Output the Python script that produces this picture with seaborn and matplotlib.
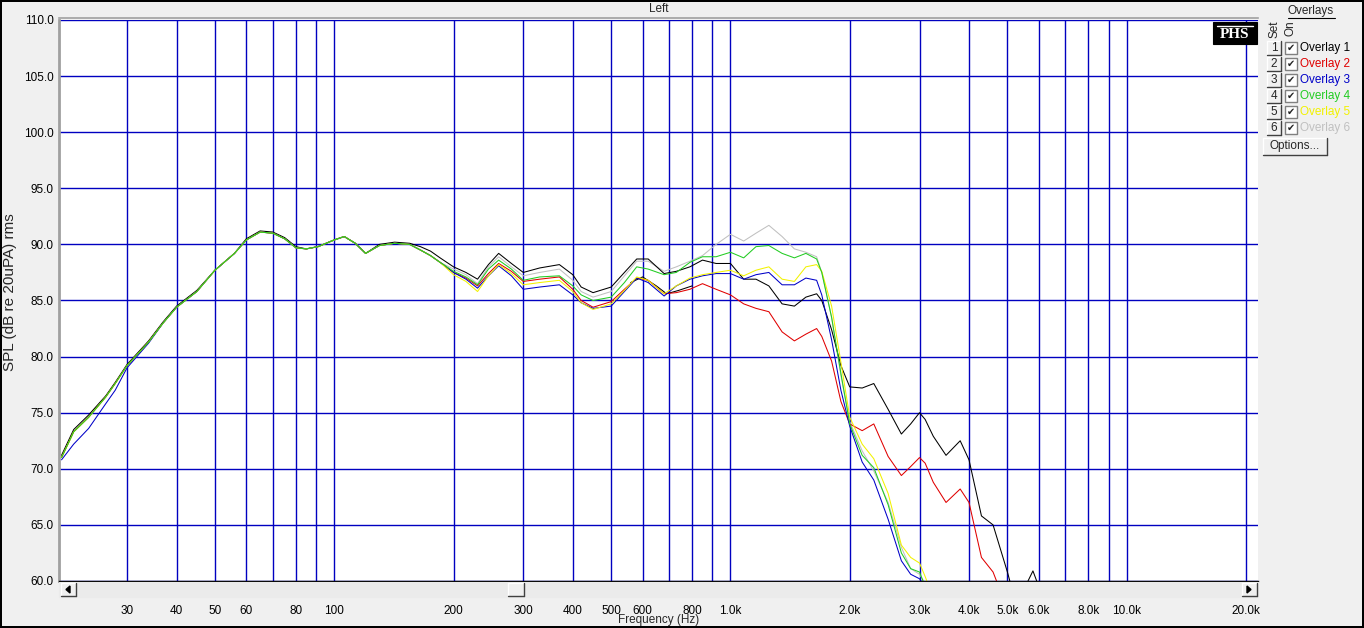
import numpy as np
import pandas as pd
import seaborn as sns
import matplotlib.pyplot as plt
from matplotlib.patches import Rectangle, Polygon
from matplotlib.lines import Line2D
from matplotlib.ticker import NullLocator

# --- data --------------------------------------------------------------
low_hz = [20.5, 22, 24, 26.5, 28, 30, 34, 37, 40, 45, 50, 56, 60, 65, 70, 75,
          80, 85, 91, 100, 106, 113, 120, 130, 142, 155, 165, 175, 185]
low_db = [71.0, 73.3, 74.6, 76.4, 77.6, 79.2, 81.3, 83.0, 84.4, 85.8, 87.7, 89.2,
          90.4, 91.1, 91.0, 90.5, 89.7, 89.6, 89.8, 90.4, 90.7, 90.1, 89.2, 89.9,
          90.1, 90.0, 89.5, 89.0, 88.4]
low_db_ov1 = [71.2, 73.5, 74.8, 76.5, 77.7, 79.3, 81.4, 83.1, 84.5, 85.9, 87.7, 89.2,
              90.5, 91.2, 91.1, 90.6, 89.8, 89.6, 89.8, 90.4, 90.7, 90.1, 89.2, 90.0,
              90.2, 90.1, 89.8, 89.4, 88.8]
low_db_ov3 = [70.8, 72.2, 73.6, 75.8, 77.0, 79.0, 81.2, 83.0, 84.4, 85.8, 87.7, 89.2,
              90.4, 91.1, 91.0, 90.5, 89.7, 89.6, 89.8, 90.4, 90.7, 90.1, 89.2, 89.9,
              90.1, 90.0, 89.5, 89.0, 88.4]

hi_hz = [200, 215, 230, 245, 260, 280, 300, 330, 370, 400,
         420, 450, 500, 540, 580, 620, 680, 730, 790, 850,
         920, 1000, 1080, 1160, 1250, 1350, 1450, 1550, 1650, 1700,
         1800, 1900, 2000, 2150, 2300, 2500, 2700, 2850, 3000, 3100,
         3250, 3500, 3800, 4000, 4300, 4600, 5000, 5300, 5600, 5800,
         6000, 6400]

na = np.nan
ov1_hi = [88.0, 87.5, 86.9, 88.2, 89.2, 88.3, 87.5, 87.9, 88.2, 87.3,
          86.2, 85.7, 86.2, 87.5, 88.7, 88.7, 87.4, 87.6, 88.0, 88.6,
          88.3, 88.3, 86.9, 86.9, 86.3, 84.7, 84.5, 85.3, 85.6, 85.0,
          82.4, 79.2, 77.3, 77.2, 77.6, 75.3, 73.1, 74.0, 75.0, 74.4,
          72.9, 71.2, 72.5, 70.8, 65.8, 65.0, 60.8, 57.5, 59.8, 60.9,
          59.5, 56.0]
ov2_hi = [87.5, 87.0, 86.3, 87.4, 88.3, 87.6, 86.7, 86.9, 87.1, 86.0,
          85.0, 84.4, 84.9, 86.0, 87.0, 86.8, 85.6, 85.7, 86.0, 86.5,
          86.0, 85.5, 84.7, 84.3, 84.0, 82.2, 81.4, 82.0, 82.5, 81.8,
          79.6, 76.0, 74.0, 73.4, 74.0, 71.1, 69.4, 70.2, 71.0, 70.5,
          68.8, 67.0, 68.2, 67.0, 62.1, 60.8, 57.5, na, na, na,
          na, na]
ov3_hi = [87.5, 86.9, 86.1, 87.2, 88.1, 87.2, 86.0, 86.2, 86.4, 85.5,
          84.8, 84.3, 84.5, 85.8, 87.0, 86.6, 85.4, 86.3, 86.9, 87.2,
          87.4, 87.4, 86.9, 87.3, 87.5, 86.4, 86.4, 87.0, 86.8, 85.5,
          81.5, 77.0, 73.8, 70.6, 69.0, 65.5, 61.8, 60.6, 60.2, 59.5,
          na, na, na, na, na, na, na, na, na, na,
          na, na]
ov4_hi = [87.6, 87.1, 86.4, 87.8, 88.6, 87.8, 86.8, 87.1, 87.2, 86.3,
          85.5, 85.0, 85.3, 86.6, 88.0, 87.8, 87.3, 87.5, 88.4, 88.9,
          88.9, 89.3, 88.8, 89.8, 89.9, 89.2, 88.8, 89.2, 88.7, 87.5,
          83.5, 78.5, 74.0, 71.2, 70.1, 66.8, 62.5, 61.1, 60.8, 59.5,
          na, na, na, na, na, na, na, na, na, na,
          na, na]
ov5_hi = [87.3, 86.7, 85.8, 87.2, 88.2, 87.4, 86.4, 86.6, 86.8, 85.8,
          84.8, 84.2, 84.7, 85.9, 87.1, 86.8, 85.6, 86.3, 87.0, 87.3,
          87.5, 87.7, 87.2, 87.7, 88.0, 86.9, 86.7, 88.0, 88.2, 87.6,
          84.5, 79.5, 74.6, 72.2, 70.9, 67.8, 63.2, 62.1, 61.6, 60.4,
          58.5, na, na, na, na, na, na, na, na, na,
          na, na]
ov6_hi = [87.8, 87.3, 86.5, 88.0, 88.9, 88.0, 87.2, 87.5, 87.8, 86.8,
          85.8, 85.3, 85.8, 87.2, 88.5, 88.5, 87.6, 88.0, 88.5, 89.0,
          90.0, 90.9, 90.3, 91.0, 91.7, 90.7, 89.6, 89.3, 88.9, 87.5,
          83.5, 78.3, 74.2, 71.6, 69.8, 67.0, 63.0, 61.1, 60.6, 59.8,
          na, na, na, na, na, na, na, na, na, na,
          na, na]

# short live trace that peeks out below the overlays near 700 Hz
cur_hz = [560, 600, 650, 690, 740, 800]
cur_db = [86.6, 87.1, 86.3, 85.6, 85.9, 86.3]

overlay_names = ["Overlay 1", "Overlay 2", "Overlay 3", "Overlay 4", "Overlay 5", "Overlay 6"]
overlay_colors = ["#000000", "#E00000", "#0000C8", "#22CC22", "#F2F200", "#C0C0C0"]

grid_hz = [30, 40, 50, 60, 70, 80, 90, 100, 200, 300, 400, 500, 600, 700, 800, 900,
           1000, 2000, 3000, 4000, 5000, 6000, 7000, 8000, 9000, 10000, 20000]
grid_labels = ["30", "40", "50", "60", "", "80", "", "100", "200", "300", "400", "500",
               "600", "", "800", "", "1.0k", "2.0k", "3.0k", "4.0k", "5.0k", "6.0k",
               "", "8.0k", "", "10.0k", "20.0k"]
y_ticks = [60, 65, 70, 75, 80, 85, 90, 95, 100, 105, 110]

# --- figure ---------------------------------------------------------------
sns.set_style("white")
plt.rcParams["font.family"] = ["Liberation Sans", "DejaVu Sans"]
plt.rcParams["font.size"] = 8.5

W, H = 1364, 628


def fx(x):
    return x / W


def fy(y):
    return 1 - y / H


fig = plt.figure(figsize=(W / 100, H / 100), dpi=100, facecolor="#F0F0F0")
fig.patch.set_edgecolor("black")
fig.patch.set_linewidth(1.5)


def box(x0, y0, x1, y1, face, edge=None, lw=0.8, z=5):
    fig.add_artist(Rectangle((fx(x0), fy(y1)), fx(x1) - fx(x0), fy(y0) - fy(y1),
                             transform=fig.transFigure, facecolor=face,
                             edgecolor=edge if edge else face, linewidth=lw, zorder=z))


def seg(x0, y0, x1, y1, color, lw=0.8, z=6):
    fig.add_artist(Line2D([fx(x0), fx(x1)], [fy(y0), fy(y1)], transform=fig.transFigure,
                          color=color, lw=lw, zorder=z))


def raised(x0, y0, x1, y1, z=5):
    box(x0, y0, x1, y1, "#F0F0F0", z=z)
    seg(x0, y0, x1, y0, "white", 1, z + 1)
    seg(x0, y0, x0, y1, "white", 1, z + 1)
    seg(x0, y1, x1, y1, "#404040", 1, z + 1)
    seg(x1, y0, x1, y1, "#404040", 1, z + 1)


ax = fig.add_axes([fx(59), fy(581), fx(1258) - fx(59), fy(20) - fy(581)], facecolor="white")
ax.set_xscale("log")

sns.lineplot(x=cur_hz, y=cur_db, ax=ax, color="black", lw=0.75, legend=False,
             sort=False, estimator=None)
series = [
    (low_db + ov6_hi, 5),
    (low_db_ov1 + ov1_hi, 0),
    (low_db + ov2_hi, 1),
    (low_db_ov3 + ov3_hi, 2),
    (low_db + ov5_hi, 4),
    (low_db + ov4_hi, 3),
]
for db, i in series:
    df = pd.DataFrame({"hz": low_hz + hi_hz, "db": db}).dropna()
    sns.lineplot(data=df, x="hz", y="db", ax=ax, color=overlay_colors[i], lw=0.75,
                 legend=False, sort=False, estimator=None)

ax.set_xlim(20.2, 21450)
ax.set_ylim(60, 110)
ax.set_xticks(grid_hz)
ax.set_xticklabels(grid_labels)
ax.xaxis.set_minor_locator(NullLocator())
ax.set_yticks(y_ticks)
ax.set_yticklabels([f"{v:.1f}" for v in y_ticks])
ax.set_xlabel("")
ax.set_ylabel("")
ax.grid(True, color="#0000C0", lw=1.0)
ax.set_axisbelow(True)
ax.tick_params(axis="y", length=2, width=1, pad=2, labelsize=8.5, colors="black")
ax.tick_params(axis="x", length=15.5, width=0.8, pad=1.5, labelsize=8.5, colors="black")

ax.spines["right"].set_visible(False)
ax.spines["bottom"].set_color("black")
ax.spines["bottom"].set_linewidth(1.0)
ax.spines["left"].set_color("#A0A0A0")
ax.spines["left"].set_linewidth(2.0)
ax.spines["top"].set_color("#A0A0A0")
ax.spines["top"].set_linewidth(1.2)
ax.spines["top"].set_position(("outward", 1.2))

fig.text(fx(659), fy(9), "Left", ha="center", va="center", fontsize=8.5)
fig.text(fx(659), fy(620), "Frequency (Hz)", ha="center", va="center", fontsize=8.5)
fig.text(fx(10), fy(292), "SPL (dB re 20uPA) rms", ha="center", va="center",
         rotation=90, fontsize=11)

# scrollbar under the plot
box(59, 582, 1258, 597, "#EBEBEB", z=5)
raised(61, 583, 76, 596, z=6)
raised(1242, 583, 1257, 596, z=6)
raised(508, 583, 524, 596, z=6)
fig.add_artist(Polygon([(fx(66), fy(589.5)), (fx(70), fy(586)), (fx(70), fy(593))],
                       closed=True, transform=fig.transFigure, color="black", zorder=8))
fig.add_artist(Polygon([(fx(1251), fy(589.5)), (fx(1247), fy(586)), (fx(1247), fy(593))],
                       closed=True, transform=fig.transFigure, color="black", zorder=8))

# PHS badge
box(1213, 22, 1257, 44, "black", z=6)
seg(1217, 26, 1253, 26, "white", 1.0, 7)
fig.text(fx(1235), fy(34.5), "PHS", ha="center", va="center", color="white",
         fontsize=11, fontweight="bold", family=["Liberation Serif", "DejaVu Serif"], zorder=8)

# overlay panel
fig.text(fx(1311), fy(11), "Overlays", ha="center", va="center", fontsize=8.5)
seg(1288, 18, 1335, 18, "black", 0.8)
fig.text(fx(1274), fy(29), "Set", ha="center", va="center", rotation=90, fontsize=8.5)
fig.text(fx(1290), fy(28), "On", ha="center", va="center", rotation=90, fontsize=8.5)

row_y = [48, 64, 80, 96, 112, 128]
for k, yc in enumerate(row_y):
    raised(1267, yc - 7, 1281, yc + 7, z=6)
    fig.text(fx(1274), fy(yc), str(k + 1), ha="center", va="center", fontsize=8.5, zorder=9)
    box(1285, yc - 6, 1297, yc + 6, "white", edge="#808080", lw=1.0, z=6)
    fig.text(fx(1291), fy(yc), "\u2714", ha="center", va="center", fontsize=7,
             family="DejaVu Sans", zorder=9)
    fig.text(fx(1300), fy(yc), overlay_names[k], ha="left", va="center", fontsize=8.5,
             color=overlay_colors[k], zorder=9)

raised(1263, 138, 1327, 155, z=6)
fig.text(fx(1295), fy(146.5), "Options...", ha="center", va="center", fontsize=8.5, zorder=9)

fig.savefig("out.png", dpi=100, facecolor=fig.get_facecolor(), edgecolor="black")
